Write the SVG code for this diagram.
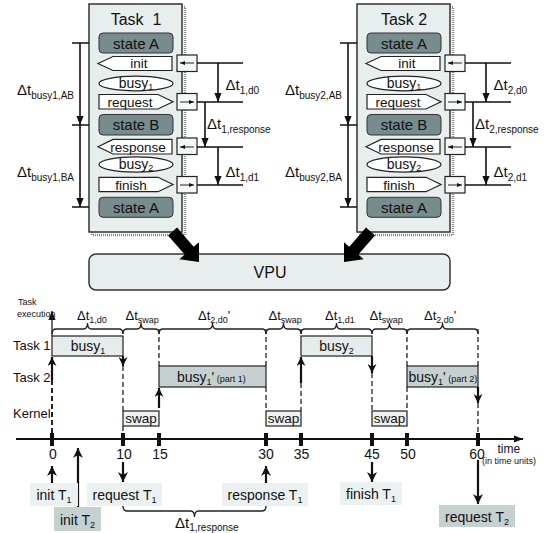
<svg xmlns="http://www.w3.org/2000/svg" width="552" height="533" viewBox="0 0 552 533">
<defs>
<style>
text{font-family:"Liberation Sans",Arial,Helvetica,sans-serif;fill:#111}
.box{fill:#e8eeee;stroke:#333;stroke-width:1.5}
.shadow{fill:none;stroke:#8c8c8c;stroke-width:2.5;stroke-dasharray:1 1}
.state{fill:#778c8c;stroke:#333;stroke-width:1}
.msg{fill:#fff;stroke:#222;stroke-width:1.2}
.port{fill:#f6f8f8;stroke:#222;stroke-width:1.2}
.ln{stroke:#111;stroke-width:1.6;fill:none}
.thin{stroke:#222;stroke-width:1;fill:none}
.dash{stroke:#222;stroke-width:1.3;fill:none;stroke-dasharray:5 3}
.dashb{stroke:#222;stroke-width:2;fill:none;stroke-dasharray:5 3}
.trig{stroke:#111;stroke-width:2.2;fill:none}
.brace{stroke:#222;stroke-width:1.3;fill:none}
.title{font-size:16px;text-anchor:middle;white-space:pre}
.st{font-size:15px;text-anchor:middle}
.bt{font-size:14px;text-anchor:middle}
.mt{font-size:13.5px;text-anchor:middle}
.dl{font-size:15px}
.dl13{font-size:13px}
.s10{font-size:10px}
.s9{font-size:9px}
.row{font-size:13px}
.small{font-size:9px}
.num{font-size:14px;text-anchor:middle}
.lab{font-size:14px;text-anchor:middle}
.lbox{fill:#ebf0f0}
.dbox{fill:#c5d0d0}
.tb1{fill:#e5ecec;stroke:#222;stroke-width:1.2}
.tb2{fill:#c6d0d0;stroke:#222;stroke-width:1.2}
.swap{fill:#eef2f2;stroke:#222;stroke-width:1.2}
</style>
<marker id="ah" viewBox="0 0 10 8" refX="10" refY="4" markerWidth="9" markerHeight="7.2" markerUnits="userSpaceOnUse" orient="auto"><path d="M0,0 L10,4 L0,8 z" fill="#111"/></marker>
<marker id="sm" viewBox="0 0 10 8" refX="10" refY="4" markerWidth="5" markerHeight="4" markerUnits="userSpaceOnUse" orient="auto"><path d="M0,0 L10,4 L0,8 z" fill="#111"/></marker>
<marker id="ta" viewBox="0 0 10 10" refX="10" refY="5" markerWidth="9" markerHeight="9" markerUnits="userSpaceOnUse" orient="auto"><path d="M0,0 L10,5 L0,10 L3,5 z" fill="#111"/></marker>
<marker id="tb" viewBox="0 0 10 10" refX="10" refY="5" markerWidth="10" markerHeight="10" markerUnits="userSpaceOnUse" orient="auto"><path d="M0,0 L10,5 L0,10 L3,5 z" fill="#111"/></marker>
</defs>

<g id="task1">
<rect class="shadow" x="92" y="7" width="93" height="228"/>
<rect class="box" x="89" y="4" width="93" height="228"/>
<text class="title" x="136" y="25">Task  1</text>
<g id="t1-stateA"><rect class="state" x="99" y="33" width="74" height="20" rx="4"/><text class="st" x="136" y="48.5">state A</text></g>
<g id="t1-init"><polygon class="msg" points="98,63.5 113,56.5 172,56.5 172,70.5 113,70.5"/><text class="mt" x="139" y="68">init</text></g>
<g id="t1-busy1"><ellipse class="msg" cx="136" cy="83.5" rx="37" ry="7.3"/><text class="bt" x="136" y="87.5">busy<tspan class="s9" dy="2.5">1</tspan></text></g>
<g id="t1-request"><polygon class="msg" points="99,94.5 158,94.5 173,101.7 158,109 99,109"/><text class="mt" x="130" y="106.5">request</text></g>
<g id="t1-stateB"><rect class="state" x="99" y="114.5" width="74" height="20.5" rx="4"/><text class="st" x="136" y="130">state B</text></g>
<g id="t1-response"><polygon class="msg" points="98,146.7 113,139.4 172,139.4 172,154 113,154"/><text class="mt" x="138" y="151.5">response</text></g>
<g id="t1-busy2"><ellipse class="msg" cx="136" cy="164.5" rx="37" ry="7.7"/><text class="bt" x="136" y="168.5">busy<tspan class="s9" dy="2.5">2</tspan></text></g>
<g id="t1-finish"><polygon class="msg" points="99,177.3 158,177.3 173,184.5 158,191.7 99,191.7"/><text class="mt" x="131" y="189.5">finish</text></g>
<g id="t1-stateA2"><rect class="state" x="99" y="197.3" width="74" height="20" rx="4"/><text class="st" x="136" y="212.5">state A</text></g>
<g id="t1-ports">
<rect class="port" x="177" y="55" width="20" height="16.5"/>
<rect class="port" x="177" y="93.5" width="20" height="16.5"/>
<rect class="port" x="177" y="138" width="20" height="16.5"/>
<rect class="port" x="177" y="176.5" width="20" height="16.5"/>
</g>
<text class="dl" x="17" y="95">Δt<tspan class="s10" dy="4">busy1,AB</tspan></text>
<text class="dl" x="17" y="177">Δt<tspan class="s10" dy="4">busy1,BA</tspan></text>
<text class="dl" x="225.5" y="90">Δt<tspan class="s10" dy="4">1,d0</tspan></text>
<text class="dl" x="207" y="129">Δt<tspan class="s10" dy="4">1,response</tspan></text>
<text class="dl" x="225.5" y="177">Δt<tspan class="s10" dy="4">1,d1</tspan></text>
</g>

<g id="task2">
<rect class="shadow" x="360" y="7" width="93" height="228"/>
<rect class="box" x="357" y="4" width="93" height="228"/>
<text class="title" x="404" y="25">Task 2</text>
<g id="t2-stateA"><rect class="state" x="367" y="33" width="74" height="20" rx="4"/><text class="st" x="404" y="48.5">state A</text></g>
<g id="t2-init"><polygon class="msg" points="366,63.5 381,56.5 440,56.5 440,70.5 381,70.5"/><text class="mt" x="407" y="68">init</text></g>
<g id="t2-busy1"><ellipse class="msg" cx="404" cy="83.5" rx="37" ry="7.3"/><text class="bt" x="404" y="87.5">busy<tspan class="s9" dy="2.5">1</tspan></text></g>
<g id="t2-request"><polygon class="msg" points="367,94.5 426,94.5 441,101.7 426,109 367,109"/><text class="mt" x="398" y="106.5">request</text></g>
<g id="t2-stateB"><rect class="state" x="367" y="114.5" width="74" height="20.5" rx="4"/><text class="st" x="404" y="130">state B</text></g>
<g id="t2-response"><polygon class="msg" points="366,146.7 381,139.4 440,139.4 440,154 381,154"/><text class="mt" x="406" y="151.5">response</text></g>
<g id="t2-busy2"><ellipse class="msg" cx="404" cy="164.5" rx="37" ry="7.7"/><text class="bt" x="404" y="168.5">busy<tspan class="s9" dy="2.5">2</tspan></text></g>
<g id="t2-finish"><polygon class="msg" points="367,177.3 426,177.3 441,184.5 426,191.7 367,191.7"/><text class="mt" x="399" y="189.5">finish</text></g>
<g id="t2-stateA2"><rect class="state" x="367" y="197.3" width="74" height="20" rx="4"/><text class="st" x="404" y="212.5">state A</text></g>
<g id="t2-ports">
<rect class="port" x="445" y="55" width="20" height="16.5"/>
<rect class="port" x="445" y="93.5" width="20" height="16.5"/>
<rect class="port" x="445" y="138" width="20" height="16.5"/>
<rect class="port" x="445" y="176.5" width="20" height="16.5"/>
</g>
<text class="dl" x="285" y="95">Δt<tspan class="s10" dy="4">busy2,AB</tspan></text>
<text class="dl" x="285" y="177">Δt<tspan class="s10" dy="4">busy2,BA</tspan></text>
<text class="dl" x="493.5" y="90">Δt<tspan class="s10" dy="4">2,d0</tspan></text>
<text class="dl" x="475" y="129">Δt<tspan class="s10" dy="4">2,response</tspan></text>
<text class="dl" x="493.5" y="177">Δt<tspan class="s10" dy="4">2,d1</tspan></text>
</g>

<g id="vpu">
<rect class="box" x="89" y="254" width="361" height="36" rx="7"/>
<text x="270" y="278" style="font-size:16px;text-anchor:middle">VPU</text>
</g>

<g id="connectors">
<polygon points="177,227.6 193.7,246.8 199,242.2 199,262 179.4,259.2 184.7,254.6 168,235.4" fill="#000"/>
<polygon points="366,227.6 349.3,246.8 344,242.2 344,262 363.6,259.2 358.3,254.6 375,235.4" fill="#000"/>
<g id="t1-conn">
<path class="ln" d="M197,63H243M197,102H243M197,147H243M197,185H243"/>
<path class="thin" d="M194,63H180" marker-end="url(#sm)"/>
<path class="thin" d="M180,102H194" marker-end="url(#sm)"/>
<path class="thin" d="M194,147H180" marker-end="url(#sm)"/>
<path class="thin" d="M180,185H194" marker-end="url(#sm)"/>
<path class="ln" d="M218,63V102" marker-end="url(#ah)"/>
<path class="ln" d="M205,102V147" marker-end="url(#ah)"/>
<path class="ln" d="M218,147V185" marker-end="url(#ah)"/>
<path class="ln" d="M72,43H89M72,125H89M72,207H89"/>
<path class="ln" d="M80,43V125" marker-end="url(#ah)"/>
<path class="ln" d="M80,125V207" marker-end="url(#ah)"/>
</g>
<g id="t2-conn">
<path class="ln" d="M465,63H511M465,102H511M465,147H511M465,185H511"/>
<path class="thin" d="M462,63H448" marker-end="url(#sm)"/>
<path class="thin" d="M448,102H462" marker-end="url(#sm)"/>
<path class="thin" d="M462,147H448" marker-end="url(#sm)"/>
<path class="thin" d="M448,185H462" marker-end="url(#sm)"/>
<path class="ln" d="M486,63V102" marker-end="url(#ah)"/>
<path class="ln" d="M473,102V147" marker-end="url(#ah)"/>
<path class="ln" d="M486,147V185" marker-end="url(#ah)"/>
<path class="ln" d="M340,43H357M340,125H357M340,207H357"/>
<path class="ln" d="M348,43V125" marker-end="url(#ah)"/>
<path class="ln" d="M348,125V207" marker-end="url(#ah)"/>
</g>
</g>

<g id="timeline">
<text class="small" x="18" y="305">Task</text>
<text class="small" x="17" y="317">execution</text>
<text class="row" x="13" y="350">Task 1</text>
<text class="row" x="13" y="382">Task 2</text>
<text class="row" x="13" y="418">Kernel</text>

<g id="braces">
<path class="brace" d="M52,334Q52,329 56,329L83.5,329Q87.5,329 87.5,323Q87.5,329 91.5,329L119,329Q123,329 123,334"/>
<path class="brace" d="M123,334Q123,329 127,329L137,329Q141,329 141,323Q141,329 145,329L155,329Q159,329 159,334"/>
<path class="brace" d="M159,334Q159,329 163,329L208.5,329Q212.5,329 212.5,323Q212.5,329 216.5,329L262,329Q266,329 266,334"/>
<path class="brace" d="M266,334Q266,329 270,329L279.5,329Q283.5,329 283.5,323Q283.5,329 287.5,329L297,329Q301,329 301,334"/>
<path class="brace" d="M301,334Q301,329 305,329L332.5,329Q336.5,329 336.5,323Q336.5,329 340.5,329L368,329Q372,329 372,334"/>
<path class="brace" d="M372,334Q372,329 376,329L385.5,329Q389.5,329 389.5,323Q389.5,329 393.5,329L403,329Q407,329 407,334"/>
<path class="brace" d="M407,334Q407,329 411,329L438.5,329Q442.5,329 442.5,323Q442.5,329 446.5,329L474,329Q478,329 478,334"/>
<path class="brace" d="M123,506Q123,511 127,511L190.5,511Q194.5,511 194.5,517Q194.5,511 198.5,511L262,511Q266,511 266,506"/>
<text class="dl13" x="77" y="320">Δt<tspan class="s9" dy="3">1,d0</tspan></text>
<text class="dl13" x="125.5" y="320">Δt<tspan class="s9" dy="3">swap</tspan></text>
<text class="dl13" x="198" y="320">Δt<tspan class="s9" dy="3">2,d0</tspan><tspan dy="-3">'</tspan></text>
<text class="dl13" x="268.5" y="320">Δt<tspan class="s9" dy="3">swap</tspan></text>
<text class="dl13" x="325" y="320">Δt<tspan class="s9" dy="3">1,d1</tspan></text>
<text class="dl13" x="369.5" y="320">Δt<tspan class="s9" dy="3">swap</tspan></text>
<text class="dl13" x="424" y="320">Δt<tspan class="s9" dy="3">2,d0</tspan><tspan dy="-3">'</tspan></text>
<text class="dl" x="175" y="528">Δt<tspan class="s10" dy="2.5">1,response</tspan></text>
</g>

<g id="busy-t1-1"><rect class="tb1" x="52" y="336" width="71" height="20"/><text class="lab" x="88" y="351">busy<tspan class="s9" dy="3">1</tspan></text></g>
<g id="busy-t2-1"><rect class="tb2" x="159" y="366" width="107" height="21"/><text x="177" y="381.5" style="font-size:14px">busy<tspan class="s9" dy="3">1</tspan><tspan dy="-3">'</tspan><tspan class="s9"> (part 1)</tspan></text></g>
<g id="busy-t1-2"><rect class="tb1" x="301" y="336" width="71" height="20"/><text class="lab" x="336.5" y="351">busy<tspan class="s9" dy="3">2</tspan></text></g>
<g id="busy-t2-2"><rect class="tb2" x="407" y="366" width="71" height="21"/><text x="408.5" y="381.5" style="font-size:14px">busy<tspan class="s9" dy="3">1</tspan><tspan dy="-3">'</tspan><tspan class="s9"> (part 2)</tspan></text></g>
<g id="swap1"><rect class="swap" x="123" y="411" width="36" height="15"/><text x="141" y="423" style="font-size:13.5px;text-anchor:middle">swap</text></g>
<g id="swap2"><rect class="swap" x="266" y="411" width="35" height="15"/><text x="283.5" y="423" style="font-size:13.5px;text-anchor:middle">swap</text></g>
<g id="swap3"><rect class="swap" x="372" y="411" width="35" height="15"/><text x="389.5" y="423" style="font-size:13.5px;text-anchor:middle">swap</text></g>

<g id="guides">
<path class="thin" d="M52,336V311" marker-end="url(#ah)" style="stroke-width:1.3"/>
<path class="dashb" d="M52,433V378"/>
<path class="trig" d="M52,380V357" marker-end="url(#ta)"/>
<path class="trig" d="M123,356V366" marker-end="url(#ta)"/>
<path class="dash" d="M123,366V411"/>
<path class="dash" d="M123,426V433"/>
<path class="dash" d="M159,329V366"/>
<path class="trig" d="M159,408V388" marker-end="url(#ta)"/>
<path class="dash" d="M266,329V366M266,387V411"/>
<path class="dash" d="M301,329V336"/>
<path class="trig" d="M301,383V357" marker-end="url(#ta)"/>
<path class="dash" d="M301,383V411"/>
<path class="trig" d="M372,356V373" marker-end="url(#ta)"/>
<path class="dash" d="M372,373V411"/>
<path class="dash" d="M407,329V366M407,387V411"/>
<path class="dash" d="M478,329V366"/>
<path class="trig" d="M478,387V403" marker-end="url(#ta)"/>
<path class="dash" d="M478,403V433"/>
</g>

<g id="axis">
<path d="M16,439H523" stroke="#111" stroke-width="2" fill="none" marker-end="url(#ah)"/>
<g fill="#111">
<rect x="50" y="433" width="4" height="13"/>
<rect x="121" y="433" width="4" height="13"/>
<rect x="157" y="433" width="4" height="13"/>
<rect x="264" y="433" width="4" height="13"/>
<rect x="299" y="433" width="4" height="13"/>
<rect x="370" y="433" width="4" height="13"/>
<rect x="405" y="433" width="4" height="13"/>
<rect x="476" y="433" width="4" height="13"/>
</g>
<text class="num" x="53" y="458.5">0</text>
<text class="num" x="124" y="458.5">10</text>
<text class="num" x="160" y="458.5">15</text>
<text class="num" x="266" y="458.5">30</text>
<text class="num" x="301.5" y="458.5">35</text>
<text class="num" x="372" y="458.5">45</text>
<text class="num" x="408" y="458.5">50</text>
<text class="num" x="477" y="458.5">60</text>
<text x="497.5" y="453" style="font-size:12px">time</text>
<text x="482" y="463.5" class="small">(in time units)</text>
</g>

<g id="events">
<path class="trig" d="M52,483V466" marker-end="url(#tb)"/>
<path class="trig" d="M78,507V448" marker-end="url(#tb)"/>
<path class="trig" d="M123,462V482" marker-end="url(#tb)"/>
<path class="trig" d="M266,483V466" marker-end="url(#tb)"/>
<path class="trig" d="M372,462V482" marker-end="url(#tb)"/>
<path class="trig" d="M478,460V504" marker-end="url(#tb)"/>
<g id="ev-initT1"><rect class="lbox" x="30" y="483" width="48" height="23"/><text class="lab" x="54" y="500">init T<tspan class="s9" dy="3">1</tspan></text></g>
<g id="ev-initT2"><rect class="dbox" x="54" y="507" width="47" height="24"/><text class="lab" x="77.5" y="525">init T<tspan class="s9" dy="3">2</tspan></text></g>
<g id="ev-requestT1"><rect class="lbox" x="87" y="483" width="75" height="23"/><text class="lab" x="124.5" y="500">request T<tspan class="s9" dy="3">1</tspan></text></g>
<g id="ev-responseT1"><rect class="lbox" x="222" y="483" width="86" height="23"/><text class="lab" x="265" y="500">response T<tspan class="s9" dy="3">1</tspan></text></g>
<g id="ev-finishT1"><rect class="lbox" x="340" y="482" width="62" height="23"/><text class="lab" x="371" y="499">finish T<tspan class="s9" dy="3">1</tspan></text></g>
<g id="ev-requestT2"><rect class="dbox" x="439" y="505" width="76" height="22"/><text class="lab" x="477" y="521.5">request T<tspan class="s9" dy="3">2</tspan></text></g>
</g>
</g>
</svg>
